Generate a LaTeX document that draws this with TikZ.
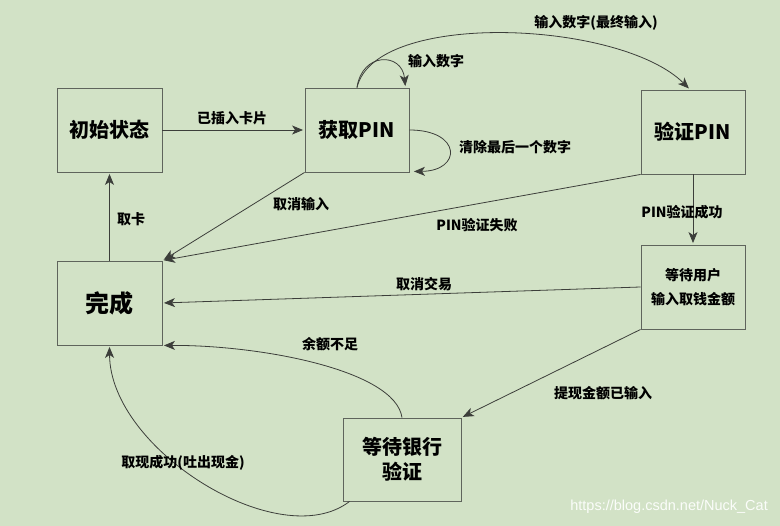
\documentclass[tikz,border=0pt]{standalone}
\usepackage{fontspec}
\setmainfont{Noto Sans CJK SC}
\newfontfamily\wmfont{Liberation Sans}
\usetikzlibrary{arrows.meta,calc}
\definecolor{bg}{RGB}{210,226,198}
\definecolor{boxline}{RGB}{95,100,92}
\definecolor{edgeline}{RGB}{60,62,58}
\tikzset{
  state/.style={draw=boxline, line width=0.9pt, rectangle, inner sep=0pt, font=\bfseries\fontsize{20}{25}\selectfont, align=center, text=black},
  conn/.style={draw=edgeline, line width=0.8pt, -{Stealth[length=11pt,width=9pt,inset=3pt]}, shorten >=1.5pt},
  lbl/.style={font=\bfseries\fontsize{14}{17}\selectfont, text=black, inner sep=0pt}
}
\begin{document}
\begin{tikzpicture}[x=1pt,y=-1pt]
\useasboundingbox (0,0) rectangle (780,526);
\fill[bg] (0,0) rectangle (780,526);

\node[state, minimum width=105pt, minimum height=84pt] (init) at (109.5,130) {初始状态};
\node[state, minimum width=104pt, minimum height=84pt] (getpin) at (357,130) {获取PIN};
\node[state, minimum width=104pt, minimum height=84pt] (verify) at (693,132) {验证PIN};
\node[state, minimum width=104pt, minimum height=84pt, font=\bfseries\fontsize{14}{24}\selectfont] (waituser) at (693,287) {等待用户\\输入取钱金额};
\node[state, minimum width=105pt, minimum height=84pt, font=\bfseries\fontsize{24}{28}\selectfont] (done) at (109.5,303) {完成};
\node[state, minimum width=118pt, minimum height=83pt] (bank) at (402,459.5) {等待银行\\验证};

\coordinate (loopend) at ($(getpin.north east)+(-4,0)$);
\coordinate (bigend) at ($(verify.north)+(-3,0)$);
\coordinate (rloopstart) at (getpin.east);
\coordinate (rloopend) at ($(getpin.south east)+(3,-1)$);
\coordinate (bankleft) at ($(bank.south west)+(7,0)$);

\draw[conn] (init.east) -- (getpin.west);
\draw[conn] (done.north) -- (init.south);
\draw[conn] (getpin.south west) -- (done.north east);
\draw[conn] (verify.south west) -- (done.north east);
\draw[conn] (waituser.west) -- (done.east);
\draw[conn] (verify.south) -- (waituser.north);
\draw[conn] (waituser.south west) -- (bank.north east);
\draw[conn] (bank.north) .. controls (395,370) and (260,345) .. (done.south east);
\draw[conn] (bankleft) .. controls (280,555) and (110,450) .. (done.south);
\draw[conn] (getpin.north) .. controls (362,52) and (402,52) .. (loopend);
\draw[conn] (getpin.north) .. controls (375,10) and (620,20) .. (bigend);
\draw[conn] (rloopstart) .. controls (462,130) and (462,171) .. (rloopend);

\node[lbl] (l1) at (232,118) {已插入卡片};
\node[lbl] (l2) at (131,219) {取卡};
\node[lbl] (l3) at (301,204) {取消输入};
\node[lbl] (l4) at (477,225) {PIN验证失败};
\node[lbl] (l5) at (436,61) {输入数字};
\node[lbl] (l6) at (596,23) {输入数字(最终输入)};
\node[lbl] (l7) at (515,147) {清除最后一个数字};
\node[lbl] (l8) at (682,212) {PIN验证成功};
\node[lbl] (l9) at (424,284) {取消交易};
\node[lbl] (l10) at (603,393) {提现金额已输入};
\node[lbl] (l11) at (330,344) {余额不足};
\node[lbl] (l12) at (183,463) {取现成功(吐出现金)};

\node[font=\wmfont\fontsize{14.5}{16}\selectfont, text=white!92!bg, inner sep=0pt, anchor=east] (wm) at (768,507) {https://blog.csdn.net/Nuck\_Cat};
\end{tikzpicture}
\end{document}
